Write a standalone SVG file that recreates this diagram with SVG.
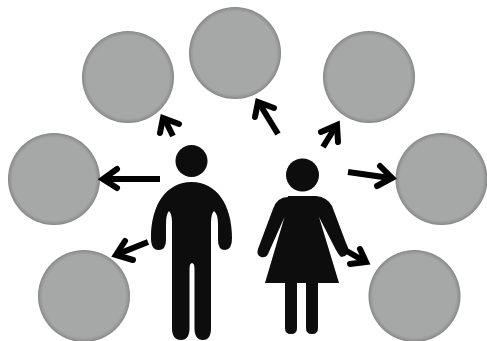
<svg xmlns="http://www.w3.org/2000/svg" width="487" height="341" viewBox="0 0 487 341">
<defs>
<radialGradient id="disc"><stop offset="0.9" stop-color="#a6a8a7"/><stop offset="0.97" stop-color="#929392"/><stop offset="1" stop-color="#7f807f"/></radialGradient>
<filter id="soft" x="-5%" y="-5%" width="110%" height="110%"><feGaussianBlur stdDeviation="0.5"/></filter>
<style>
.c{fill:url(#disc)}
.a{fill:none;stroke:#050506;stroke-width:6;stroke-linecap:butt;stroke-linejoin:miter}
.t{fill:none;stroke:#050506;stroke-width:6;stroke-linecap:round;stroke-linejoin:miter}
.b{fill:#08080a}
</style></defs>
<rect width="487" height="341" fill="#fff"/>
<g filter="url(#soft)">
<g id="node-1"><circle class="c" cx="128" cy="77" r="46"/></g>
<g id="node-2"><circle class="c" cx="235" cy="53" r="46"/></g>
<g id="node-3"><circle class="c" cx="369" cy="77" r="46"/></g>
<g id="node-4"><circle class="c" cx="441.500" cy="179" r="46"/></g>
<g id="node-5"><circle class="c" cx="414.500" cy="296" r="46"/></g>
<g id="node-6"><circle class="c" cx="84" cy="296" r="46"/></g>
<g id="node-7"><circle class="c" cx="54" cy="179" r="46"/></g>
<g id="man">
<circle class="b" cx="191.500" cy="161" r="16"/>
<path class="b" d="M191.500 182C167 182 151 204 151 238Q151 250 158.500 250Q166 250 166 240V224Q166 214 169 211Q172 214 172 222V328Q172 340 181 340Q189.500 340 189.500 328V269Q189.500 263 192 263Q194.500 263 194.500 269V328Q194.500 340 203 340Q211 340 211 328V222Q211 214 214 211Q218 214 218 224V240Q218 250 225 250Q232 250 232 238C232 204 216 182 191.500 182Z"/>
</g>
<g id="woman">
<circle class="b" cx="302.500" cy="175" r="16.500"/>
<path class="b" d="M288 196H316Q327 197 332 206L346 243Q351 252 345 256L341 257Q338 254 336 250L319 217L339 283H318V328Q318 334 312 334Q306 334 306 328V283H297V328Q297 334 291 334Q285 334 285 328V283H265L284.500 217L268 254Q266 258 261 257Q256 255 258 249L273 209Q277 197 288 197Z"/>
</g>
<g id="connectors">
<path class="a" d="M160 179H104"/><path class="t" d="M117 169L103 179L117 188"/>
<path class="a" d="M148 242L118 254"/><path class="t" d="M125 241L116 255L133 260"/>
<path class="a" d="M173 136L165 120"/><path class="t" d="M160 133L163 118L179 124"/>
<path class="a" d="M278 134L259 103"/><path class="t" d="M255 117L258 102L274 108"/>
<path class="a" d="M323 147L336 126"/><path class="t" d="M321 132L337 125L338 142"/>
<path class="a" d="M348 172L390 178"/><path class="t" d="M380 166L392 178L377 186"/>
<path class="a" d="M345 250L364 261"/><path class="t" d="M360 249L366 262L350 264"/>
</g>
</g>
</svg>
